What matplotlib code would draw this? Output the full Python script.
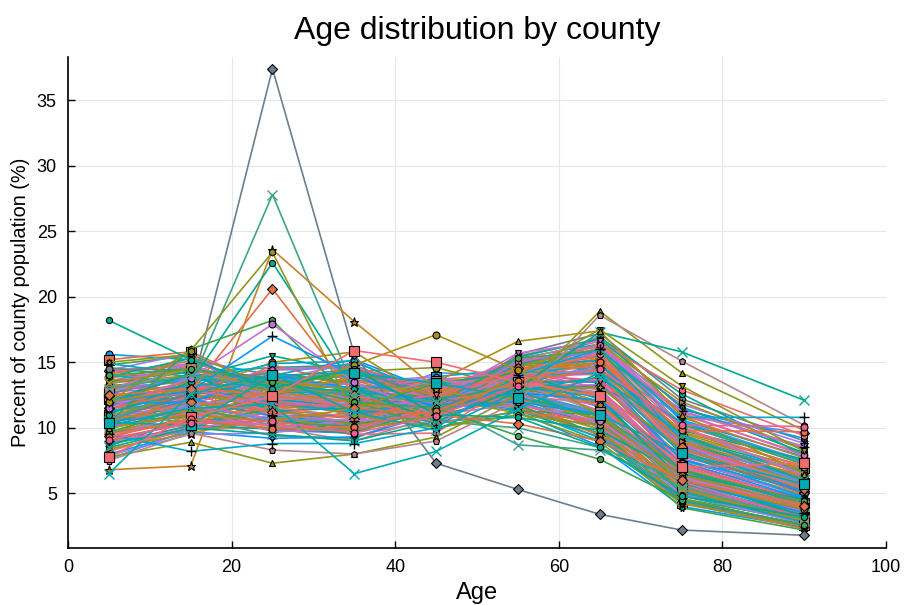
import matplotlib
matplotlib.use("Agg")
import matplotlib.pyplot as plt

# age bin midpoints
ages = [5, 15, 25, 35, 45, 55, 65, 75, 90]

# percent of county population per age bin, one row per county
highlight_rows = [
    [10.6, 12.6, 37.4, 15.6, 7.3, 5.3, 3.4, 2.2, 1.8],
    [10.5, 13.3, 27.8, 12.9, 10.5, 10.0, 8.5, 6.0, 4.0],
    [6.8, 7.1, 23.6, 18.1, 13.0, 11.5, 9.5, 6.0, 4.2],
    [11.0, 13.5, 22.6, 13.0, 10.5, 10.8, 9.8, 6.5, 4.5],
    [11.5, 12.8, 20.6, 12.5, 10.4, 11.2, 10.5, 6.4, 4.1],
    [10.4, 16.0, 18.2, 12.0, 10.0, 11.3, 11.0, 6.8, 4.4],
    [12.0, 15.9, 23.4, 11.0, 10.0, 11.0, 10.2, 6.4, 4.0],
    [11.5, 13.8, 17.9, 13.5, 11.0, 11.8, 10.5, 6.2, 4.0],
    [12.0, 12.8, 17.0, 14.0, 11.5, 12.0, 11.0, 6.0, 3.5],
    [7.8, 8.9, 7.3, 8.0, 9.3, 12.5, 18.9, 14.2, 9.8],
    [7.5, 9.6, 8.3, 8.0, 9.0, 12.0, 18.6, 15.1, 10.2],
    [8.5, 10.0, 9.5, 9.0, 10.5, 13.0, 17.3, 15.8, 12.1],
    [9.0, 10.5, 10.0, 9.8, 11.0, 14.0, 17.5, 13.2, 8.2],
    [9.5, 8.2, 8.8, 8.8, 10.0, 14.0, 16.0, 10.8, 10.8],
    [12.0, 13.0, 12.5, 14.8, 17.1, 14.4, 11.0, 6.0, 3.8],
    [10.0, 11.0, 10.5, 11.5, 13.5, 16.6, 17.4, 11.0, 6.5],
    [13.0, 14.0, 13.0, 12.5, 12.0, 8.7, 8.3, 5.5, 3.0],
    [14.0, 14.5, 13.5, 12.0, 11.5, 9.4, 7.6, 4.5, 2.6],
    [12.5, 13.0, 12.5, 11.5, 11.0, 10.3, 9.0, 6.0, 4.0],
    [18.2, 15.2, 13.0, 14.5, 11.0, 10.8, 8.5, 4.8, 3.2],
    [6.5, 12.6, 14.1, 11.2, 9.8, 12.8, 13.9, 9.5, 6.0],
    [10.2, 11.5, 11.8, 6.5, 8.2, 11.4, 14.2, 10.4, 7.4],
    [10.4, 10.2, 14.0, 14.2, 13.4, 12.3, 11.0, 8.1, 5.7],
    [7.8, 10.8, 12.4, 15.9, 15.0, 13.5, 12.4, 7.0, 7.3],
    [9.3, 10.7, 9.9, 10.1, 11.3, 13.6, 15.0, 9.8, 9.7],
    [9.1, 10.4, 10.5, 9.6, 10.9, 13.2, 14.5, 10.2, 10.1],
]

typical_rows = [
    [15.6, 15.2, 14.0, 15.2, 12.8, 11.2, 8.6, 4.0, 2.4],
    [15.2, 15.8, 13.0, 14.6, 13.0, 11.8, 9.2, 4.3, 2.6],
    [14.8, 15.5, 12.2, 14.0, 13.5, 12.4, 9.8, 4.6, 2.9],
    [14.3, 14.9, 13.6, 15.0, 12.6, 11.9, 10.1, 5.0, 3.2],
    [14.1, 15.1, 12.8, 13.8, 13.2, 12.6, 10.5, 5.2, 3.0],
    [13.9, 14.2, 14.6, 14.8, 12.2, 11.4, 9.6, 4.8, 2.8],
    [13.6, 14.6, 13.2, 13.5, 13.4, 13.0, 10.8, 5.6, 3.4],
    [13.4, 14.0, 12.0, 13.1, 12.9, 13.3, 11.6, 5.9, 3.6],
    [13.2, 13.8, 15.5, 14.2, 11.8, 12.0, 10.2, 5.4, 3.3],
    [13.0, 14.4, 11.6, 12.8, 13.6, 13.8, 12.0, 6.2, 3.9],
    [12.9, 13.6, 13.8, 13.9, 12.4, 12.8, 11.2, 6.0, 3.7],
    [12.7, 13.2, 12.6, 12.4, 12.8, 13.6, 12.6, 6.5, 4.1],
    [12.5, 14.8, 11.0, 12.0, 14.2, 14.0, 12.2, 6.4, 3.5],
    [12.4, 13.0, 14.2, 13.4, 11.6, 12.5, 11.8, 6.8, 4.4],
    [12.2, 12.6, 12.9, 12.9, 12.0, 13.5, 13.0, 7.0, 4.6],
    [12.0, 13.4, 11.8, 11.6, 12.7, 14.3, 13.4, 7.2, 4.5],
    [11.9, 12.2, 13.5, 12.6, 11.4, 13.1, 13.8, 7.5, 5.0],
    [11.7, 12.9, 12.2, 11.3, 12.3, 14.6, 14.0, 7.6, 4.8],
    [11.5, 11.8, 14.8, 13.2, 11.0, 12.2, 12.8, 7.9, 5.3],
    [11.4, 13.3, 10.8, 11.0, 13.0, 14.8, 14.4, 8.0, 5.1],
    [11.2, 12.4, 12.0, 12.2, 11.8, 13.9, 14.1, 8.3, 5.6],
    [11.0, 12.0, 11.4, 10.8, 12.1, 14.4, 15.0, 8.6, 5.8],
    [10.9, 11.5, 13.0, 11.9, 11.3, 13.4, 14.6, 8.8, 6.2],
    [10.7, 12.7, 10.5, 10.5, 12.6, 15.1, 15.4, 8.4, 5.5],
    [10.5, 11.2, 12.4, 11.4, 11.1, 14.2, 15.2, 9.2, 6.5],
    [10.3, 11.9, 11.0, 10.2, 12.2, 15.0, 16.0, 9.0, 6.0],
    [10.1, 11.0, 11.8, 11.2, 11.6, 14.7, 15.6, 9.6, 6.8],
    [9.9, 11.6, 10.2, 9.9, 11.9, 15.3, 16.4, 9.9, 7.0],
    [9.7, 10.6, 12.6, 10.9, 10.8, 14.1, 15.8, 10.2, 7.3],
    [9.5, 11.3, 9.8, 9.6, 12.4, 15.4, 16.8, 10.5, 7.5],
    [9.2, 10.3, 10.6, 10.0, 11.2, 15.0, 16.2, 11.0, 8.0],
    [8.9, 10.1, 11.2, 9.4, 10.6, 14.6, 17.0, 11.5, 8.4],
    [8.6, 10.8, 9.4, 9.2, 11.4, 15.6, 17.2, 12.2, 9.0],
    [8.3, 9.9, 10.0, 9.0, 10.9, 15.2, 16.6, 11.2, 8.6],
    [8.0, 9.7, 9.2, 9.3, 11.1, 14.9, 16.3, 10.6, 7.8],
    [13.8, 14.7, 12.4, 13.6, 12.0, 12.8, 11.0, 4.3, 2.3],
    [14.6, 13.9, 13.4, 14.4, 12.9, 12.1, 9.4, 3.9, 2.2],
    [12.8, 15.4, 12.0, 12.9, 13.8, 12.9, 10.6, 5.0, 2.7],
    [13.3, 12.8, 15.0, 15.8, 11.9, 11.6, 9.9, 4.6, 2.5],
    [11.8, 14.2, 11.2, 11.8, 13.3, 13.9, 12.4, 5.8, 3.1],
    [12.3, 11.9, 13.2, 12.2, 12.5, 13.2, 12.0, 7.8, 5.4],
    [10.8, 12.3, 12.7, 11.7, 11.5, 13.6, 13.6, 9.4, 6.9],
    [10.2, 10.9, 13.9, 12.8, 10.7, 12.9, 13.2, 9.8, 7.6],
    [9.4, 12.1, 10.4, 10.6, 12.8, 14.5, 15.2, 8.2, 5.2],
    [11.1, 10.4, 12.9, 11.5, 10.4, 13.3, 14.8, 9.1, 6.6],
    [14.4, 15.7, 11.9, 13.2, 13.1, 12.3, 10.3, 5.3, 3.0],
    [12.6, 12.5, 14.4, 14.6, 12.2, 12.1, 11.4, 6.6, 4.0],
    [13.1, 13.5, 10.9, 12.3, 13.7, 14.1, 11.6, 6.9, 4.3],
    [11.6, 13.7, 11.5, 12.5, 12.8, 13.7, 12.9, 6.3, 3.6],
    [10.6, 11.4, 11.9, 11.1, 11.7, 14.9, 15.9, 8.7, 5.9],
    [9.8, 10.2, 11.3, 10.4, 11.0, 15.5, 16.7, 10.0, 6.3],
    [9.0, 10.5, 10.8, 10.1, 12.0, 14.8, 15.5, 11.4, 9.2],
    [12.1, 12.3, 12.3, 12.0, 12.9, 13.4, 12.5, 7.3, 4.9],
    [13.5, 14.3, 13.7, 13.0, 12.0, 12.7, 11.1, 5.7, 3.8],
    [11.3, 11.7, 12.8, 13.7, 12.3, 13.1, 13.3, 7.7, 4.7],
    [10.4, 13.1, 11.1, 10.3, 12.4, 14.4, 14.9, 8.9, 5.6],
    [14.9, 14.1, 13.3, 14.1, 12.6, 11.5, 9.0, 5.5, 3.3],
    [12.0, 10.9, 13.6, 12.4, 11.2, 12.6, 13.7, 8.5, 6.4],
    [9.6, 11.1, 10.1, 11.3, 12.5, 14.2, 15.3, 9.7, 7.1],
    [8.8, 9.8, 10.7, 9.7, 11.8, 14.0, 16.9, 12.6, 7.9],
    [13.7, 13.3, 12.5, 14.3, 14.6, 13.0, 10.0, 5.1, 2.9],
    [12.2, 14.0, 12.1, 11.0, 13.9, 14.5, 11.5, 5.2, 3.2],
    [7.9, 9.5, 9.6, 10.7, 10.2, 13.8, 16.1, 11.8, 8.8],
    [7.6, 9.9, 12.3, 9.8, 11.5, 14.3, 14.7, 10.9, 9.6],
    [8.2, 10.0, 10.3, 9.5, 9.6, 13.7, 16.5, 12.9, 9.4],
    [13.0, 13.1, 13.4, 13.3, 12.5, 12.9, 11.7, 6.1, 3.4],
    [12.6, 13.9, 12.9, 12.7, 12.3, 13.0, 11.9, 6.7, 4.2],
    [11.9, 12.8, 12.5, 12.4, 12.6, 13.8, 12.7, 6.9, 4.4],
    [11.3, 12.1, 13.1, 12.1, 11.9, 13.5, 13.5, 7.6, 5.2],
    [14.2, 14.8, 12.7, 13.9, 12.7, 12.2, 10.4, 5.4, 2.9],
    [13.6, 13.6, 14.2, 13.4, 12.1, 12.4, 10.9, 5.8, 3.3],
    [12.9, 15.0, 11.7, 12.5, 13.5, 13.5, 11.3, 5.9, 3.1],
    [10.9, 12.6, 11.6, 11.4, 12.4, 14.3, 14.1, 8.1, 5.3],
    [10.6, 10.8, 12.2, 11.6, 11.4, 14.0, 14.9, 9.3, 6.7],
    [9.9, 12.4, 10.0, 10.4, 12.9, 15.2, 15.7, 8.8, 5.5],
    [9.3, 10.9, 11.5, 10.2, 11.3, 14.4, 16.1, 10.8, 7.7],
    [8.7, 10.2, 9.9, 9.6, 11.6, 15.4, 16.8, 11.6, 8.1],
    [15.0, 15.6, 13.1, 14.3, 12.4, 11.1, 8.9, 4.2, 2.5],
    [14.0, 13.4, 14.9, 15.1, 12.3, 11.3, 9.3, 4.4, 2.6],
    [13.3, 14.9, 12.3, 13.5, 13.9, 12.6, 10.0, 4.9, 2.7],
    [12.8, 13.8, 13.9, 12.9, 12.0, 12.9, 11.0, 6.4, 4.0],
    [12.4, 12.7, 12.1, 12.6, 13.1, 13.7, 12.3, 7.1, 4.3],
    [11.7, 13.4, 11.1, 11.9, 13.0, 14.4, 13.0, 6.6, 3.8],
    [11.5, 12.5, 13.7, 12.3, 11.5, 13.0, 13.2, 8.2, 5.0],
    [11.0, 11.6, 12.6, 11.5, 11.8, 14.1, 14.3, 8.4, 5.7],
    [10.3, 12.2, 10.9, 10.9, 12.3, 14.9, 15.1, 8.6, 5.1],
    [10.0, 11.1, 12.1, 11.0, 11.2, 14.5, 15.4, 9.5, 6.1],
    [9.6, 10.4, 11.4, 10.3, 11.1, 14.8, 16.0, 10.3, 7.2],
    [9.1, 11.5, 9.7, 9.9, 12.2, 15.7, 16.6, 10.1, 6.4],
    [8.4, 9.6, 10.8, 9.9, 10.8, 14.6, 16.4, 12.0, 8.3],
    [13.9, 15.3, 12.6, 13.0, 13.3, 12.8, 10.6, 5.1, 2.8],
    [13.1, 12.9, 14.5, 14.7, 12.6, 11.8, 10.1, 5.6, 3.2],
    [12.3, 13.5, 12.8, 12.8, 12.9, 13.2, 11.8, 6.6, 3.9],
    [12.0, 14.1, 11.3, 11.5, 13.4, 14.2, 12.2, 6.1, 3.3],
    [11.6, 11.4, 13.5, 12.9, 11.7, 12.8, 13.1, 8.4, 5.5],
    [11.2, 12.8, 11.9, 11.2, 12.0, 14.0, 14.2, 8.0, 4.7],
    [10.8, 11.8, 12.3, 11.8, 11.9, 13.9, 14.5, 8.7, 5.4],
    [10.1, 11.7, 10.6, 10.6, 12.1, 15.1, 15.8, 9.2, 5.8],
    [9.5, 10.5, 11.6, 10.8, 11.5, 14.3, 15.6, 10.0, 7.0],
    [8.9, 10.6, 10.2, 9.8, 11.7, 15.0, 16.3, 11.1, 7.9],
    [14.5, 14.4, 13.8, 14.5, 12.2, 11.7, 9.5, 4.5, 2.6],
    [12.7, 14.6, 12.2, 12.2, 13.6, 13.4, 11.2, 5.5, 3.0],
    [11.8, 12.0, 14.0, 13.0, 11.7, 12.7, 12.1, 7.4, 4.6],
    [10.5, 12.0, 11.2, 10.7, 12.2, 14.6, 14.6, 8.5, 5.3],
    [9.7, 11.4, 10.4, 10.1, 11.8, 15.3, 15.9, 9.4, 6.0],
    [9.0, 9.9, 11.0, 10.5, 11.0, 14.1, 16.0, 11.3, 8.5],
    [13.4, 14.5, 12.9, 13.7, 12.5, 12.3, 10.7, 5.3, 2.9],
    [12.1, 13.3, 13.3, 12.7, 12.2, 13.1, 12.4, 6.8, 4.2],
    [11.4, 12.9, 11.8, 11.7, 12.5, 14.1, 13.6, 7.3, 4.4],
    [10.7, 11.3, 12.8, 11.9, 11.2, 13.6, 14.4, 9.0, 6.3],
]

# styling (Plots.jl-like default palette and :auto marker cycle)
palette = ["#009afa", "#e36f47", "#3ea44e", "#c371d2", "#ac8e18", "#00aaae",
           "#ed5e93", "#c68225", "#00a98d", "#8e971e", "#00a8cb", "#9b7fe9",
           "#618df6", "#f16c6f", "#dd65b6", "#6d7e8e", "#b58789"]
markers = ["o", "s", "*", "D", "h", "+", "x", "^", "v", ">", "<", "p",
           "H", "8", (4, 1, 0), (6, 1, 0), (7, 1, 0), (8, 1, 0), "o", "."]

# explicit styles for the counties that stand out
highlight_style = [
    ("#6d7e8e", "D"), ("#3ea48a", "x"), ("#c68225", "*"), ("#00a98d", "."),
    ("#e36f47", "D"), ("#3ea44e", "h"), ("#8e971e", "h"), ("#c371d2", "o"),
    ("#009afa", "+"), ("#8e971e", "^"), ("#b58789", "p"), ("#00a98d", "x"),
    ("#8e971e", "v"), ("#00a8cb", "+"), ("#ac8e18", "o"), ("#ac8e18", "^"),
    ("#3ea48a", "x"), ("#3ea44e", "."), ("#e36f47", "D"), ("#00a98d", "."),
    ("#00aaae", "x"), ("#00aaae", "x"), ("#00aaae", "s"), ("#f16c6f", "s"),
    ("#e36f47", "o"), ("#ed5e93", "o"),
]


def marker_kw(color, m):
    size = {"s": 6.5, ".": 4.5, "*": 6.5, "+": 7, "x": 7}.get(m, 5)
    edge = color if m == "x" else "black"
    return dict(marker="o" if m == "." else m, markersize=size,
                markerfacecolor=color, markeredgecolor=edge,
                markeredgewidth=0.8 if m not in ("+", "x") else 1.0)


fig, ax = plt.subplots(figsize=(9.06, 6.05), dpi=100)
fig.subplots_adjust(left=0.075, right=0.978, bottom=0.094, top=0.905)
plt.rcParams["font.family"] = ["Liberation Sans", "DejaVu Sans"]

for i, row in enumerate(typical_rows):
    c = palette[i % len(palette)]
    m = markers[i % len(markers)]
    ax.plot(ages, row, color=c, lw=1.2, **marker_kw(c, m))

for row, (c, m) in zip(highlight_rows, highlight_style):
    ax.plot(ages, row, color=c, lw=1.2, **marker_kw(c, m))

ax.set_xlim(0, 100)
ax.set_ylim(0.82, 38.26)
ax.set_xticks(range(0, 101, 20))
ax.set_yticks(range(5, 36, 5))
ax.grid(True, color="#e6e6e6", lw=0.8)
ax.set_axisbelow(True)
for s in ("top", "right"):
    ax.spines[s].set_visible(False)
for s in ("left", "bottom"):
    ax.spines[s].set_linewidth(1.2)
ax.tick_params(direction="in", length=5, width=1.0, labelsize=13,
               pad=8)
for lab in ax.get_xticklabels() + ax.get_yticklabels():
    lab.set_family("Liberation Sans")

ax.set_title("Age distribution by county", fontsize=23, family="Liberation Sans", pad=13)
ax.set_xlabel("Age", fontsize=17, family="Liberation Sans", labelpad=4)
ax.set_ylabel("Percent of county population (%)", fontsize=14.4, family="Liberation Sans",
              labelpad=5)

fig.savefig("out.png", dpi=100)
